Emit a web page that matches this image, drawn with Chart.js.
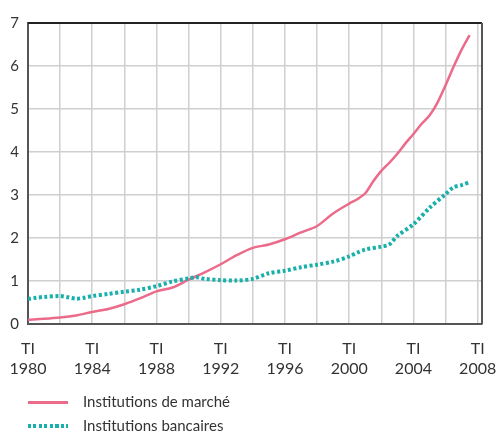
<!DOCTYPE html>
<html>
<head>
<meta charset="utf-8">
<script src="https://cdn.jsdelivr.net/npm/chart.js@4"></script>
<style>
  html, body { margin: 0; padding: 0; background: #fff; }
  #wrap { position: relative; width: 497px; height: 432px; }
  .leg { position: absolute; left: 28px; font: 15px Lato, sans-serif; color: #333; }
  .leg span.s { position: absolute; left: 0; width: 40px; }
  .leg span.t { position: absolute; left: 55px; white-space: nowrap; }
</style>
</head>
<body>
<div id="wrap">
  <canvas id="myChart" width="497" height="432"></canvas>
  <div class="leg" style="top:402px">
    <span class="s" style="top:-1px;height:2.5px;background:#ec6a8a"></span>
    <span class="t" style="top:-10px">Institutions de marché</span>
  </div>
  <div class="leg" style="top:426px">
    <span class="s" style="top:-2px;height:4px;background:repeating-linear-gradient(to right,#17b0aa 0 3px,transparent 3px 5.5px)"></span>
    <span class="t" style="top:-10px">Institutions bancaires</span>
  </div>
</div>
<script>
  // year (Q1 = .0) and value
  const marcheYears = [1980, 1981, 1982, 1983, 1984, 1985, 1986, 1987, 1988, 1989, 1990, 1991, 1992, 1993, 1994, 1995, 1996, 1997, 1998, 1999, 2000, 2000.5, 2001, 2001.5, 2002, 2002.5, 2003, 2003.5, 2004, 2004.5, 2005, 2005.5, 2006, 2006.5, 2007, 2007.5];
  const marcheValues = [0.10, 0.12, 0.15, 0.20, 0.28, 0.35, 0.46, 0.60, 0.76, 0.85, 1.03, 1.20, 1.39, 1.60, 1.77, 1.85, 1.97, 2.13, 2.28, 2.57, 2.80, 2.90, 3.04, 3.32, 3.56, 3.75, 3.96, 4.20, 4.42, 4.65, 4.85, 5.15, 5.55, 5.98, 6.38, 6.72];

  const bancYears = [1980, 1980.5, 1981, 1982, 1982.5, 1983, 1983.5, 1984, 1985, 1986, 1987, 1988, 1989, 1990, 1990.5, 1991, 1992, 1993, 1994, 1995, 1996, 1997, 1998, 1999, 2000, 2000.5, 2001, 2002, 2002.5, 2003, 2004, 2005, 2006, 2006.5, 2007, 2007.5];
  const bancValues = [0.58, 0.61, 0.63, 0.65, 0.62, 0.59, 0.61, 0.65, 0.70, 0.75, 0.80, 0.88, 0.99, 1.06, 1.09, 1.05, 1.02, 1.01, 1.05, 1.18, 1.24, 1.32, 1.38, 1.45, 1.57, 1.66, 1.73, 1.80, 1.85, 2.05, 2.32, 2.70, 3.02, 3.18, 3.23, 3.30];

  const gridYears = [1980, 1982, 1984, 1986, 1988, 1990, 1992, 1994, 1996, 1998, 2000, 2002, 2004, 2006, 2008];
  const labelYears = [1980, 1984, 1988, 1992, 1996, 2000, 2004, 2008];
  const quarterLabel = 'TI';

  const toPoints = (xs, ys) => xs.map((x, i) => ({ x: x, y: ys[i] }));

  const frame = {
    id: 'frame',
    afterDraw(chart) {
      const { ctx, chartArea: a } = chart;
      ctx.save();
      ctx.lineWidth = 2;
      ctx.strokeStyle = '#222';
      ctx.beginPath();
      ctx.moveTo(a.left, a.top);
      ctx.lineTo(a.right, a.top);
      ctx.stroke();
      ctx.strokeStyle = '#555';
      ctx.beginPath();
      ctx.moveTo(a.right, a.top);
      ctx.lineTo(a.right, a.bottom);
      ctx.stroke();
      ctx.restore();
    }
  };

  const chartCanvas = document.getElementById('myChart');
  const myChart = new Chart(chartCanvas.getContext('2d'), {
    type: 'line',
    data: {
      datasets: [{
        label: 'Institutions bancaires',
        data: toPoints(bancYears, bancValues),
        borderColor: '#17b0aa',
        borderWidth: 4,
        borderDash: [3, 2.5],
        pointRadius: 0,
        tension: 0.3
      }, {
        label: 'Institutions de marché',
        data: toPoints(marcheYears, marcheValues),
        borderColor: '#ec6a8a',
        borderWidth: 2.5,
        pointRadius: 0,
        tension: 0.3
      }]
    },
    plugins: [frame],
    options: {
      responsive: false,
      animation: false,
      layout: { padding: { top: 23, right: 15, bottom: 48, left: 0 } },
      plugins: { legend: { display: false }, tooltip: { enabled: false } },
      scales: {
        x: {
          type: 'linear',
          min: 1980,
          max: 2008.27,
          afterBuildTicks: s => { s.ticks = gridYears.map(v => ({ value: v })); },
          afterFit: s => { s.height = 60; s.paddingLeft = 0; s.paddingRight = 0; },
          grid: { color: '#cfcfcf', lineWidth: 1.5, drawTicks: false },
          border: { color: '#555', width: 2 },
          ticks: {
            padding: 14,
            autoSkip: false,
            maxRotation: 0,
            color: '#333',
            font: { family: 'Lato', size: 16, lineHeight: 1.3 },
            callback: v => labelYears.includes(v) ? [quarterLabel, String(v)] : ''
          }
        },
        y: {
          min: 0,
          max: 7,
          afterFit: s => { s.width = 28; s.paddingTop = 0; s.paddingBottom = 0; },
          grid: { color: '#cfcfcf', lineWidth: 1.5, drawTicks: false },
          border: { color: '#555', width: 2 },
          ticks: {
            stepSize: 1,
            padding: 9,
            color: '#333',
            font: { family: 'Lato', size: 15 }
          }
        }
      }
    }
  });
</script>
</body>
</html>
